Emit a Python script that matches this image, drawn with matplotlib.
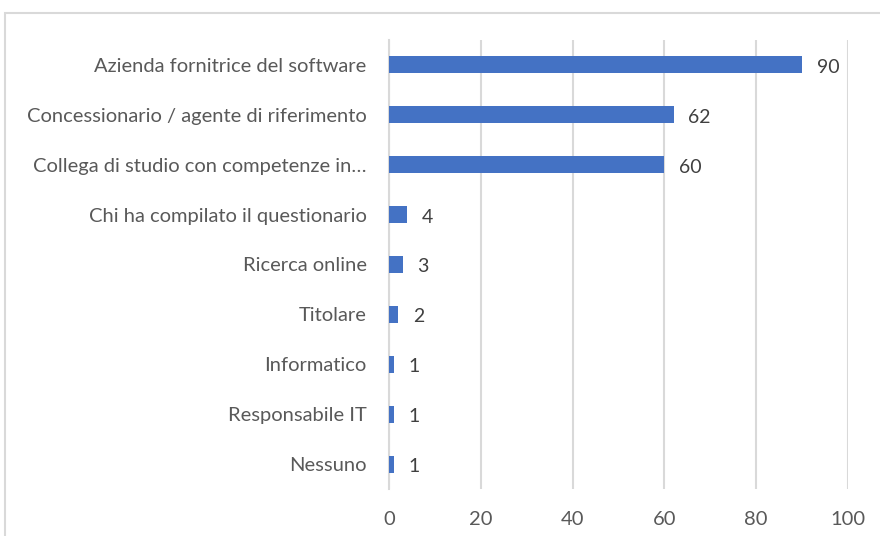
import matplotlib.pyplot as plt
from matplotlib.patches import Rectangle

categories = [
    "Azienda fornitrice del software",
    "Concessionario / agente di riferimento",
    "Collega di studio con competenze in…",
    "Chi ha compilato il questionario",
    "Ricerca online",
    "Titolare",
    "Informatico",
    "Responsabile IT",
    "Nessuno",
]
counts = [90, 62, 60, 4, 3, 2, 1, 1, 1]
x_ticks = [0, 20, 40, 60, 80, 100]

bar_color = "#4472C4"
text_color = "#595959"
grid_color = "#D9D9D9"

plt.rcParams["font.family"] = ["Lato", "DejaVu Sans"]

fig = plt.figure(figsize=(8.8, 5.36), dpi=100)
ax = fig.add_axes([0.442, 0.0877, 0.5216, 0.8377])

# light frame round the chart area, open on the right and bottom
fig.patches.append(Rectangle((5 / 880, -0.1), 1.2, 1 - 13 / 536 + 0.1,
                             transform=fig.transFigure, fill=False,
                             edgecolor=grid_color, linewidth=1.5))

y = list(range(len(categories)))
ax.barh(y, counts, height=0.34, color=bar_color, zorder=3)

for yi, v in zip(y, counts):
    ax.text(v + 3.2, yi + 0.05, str(v), va="center", ha="left",
            fontsize=14, color="#404040")

ax.set_xlim(0, 100)
ax.set_ylim(len(categories) - 0.5, -0.5)
ax.set_xticks(x_ticks)
ax.set_yticks(y)
ax.set_yticklabels(categories)
ax.tick_params(axis="both", length=0, labelsize=14.5, labelcolor=text_color)
ax.tick_params(axis="y", pad=16)
ax.tick_params(axis="x", pad=16)

ax.grid(axis="x", color=grid_color, linewidth=1.5, zorder=0)
for side in ["top", "right", "bottom"]:
    ax.spines[side].set_visible(False)
ax.spines["left"].set_color(grid_color)
ax.spines["left"].set_linewidth(1.5)

fig.savefig("out.png", dpi=100)
